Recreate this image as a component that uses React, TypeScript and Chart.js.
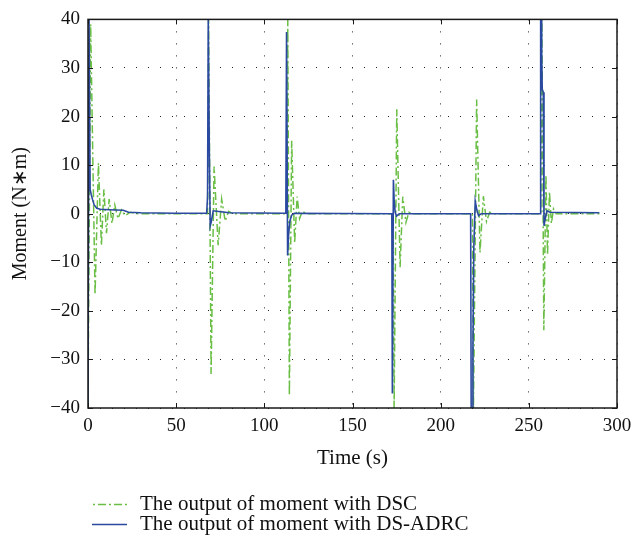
import React, { useEffect, useRef } from 'react';
import { Chart, registerables } from 'chart.js';

Chart.register(...registerables);

const seriesNames = ['The output of moment with DSC', 'The output of moment with DS-ADRC'];

const dscTime = [
  0, 1.5, 4, 5.9, 7.6, 9, 10.5, 12, 13.6, 15.2, 17, 19, 21, 24, 28, 67.8,
  68.4, 69.8, 71.5, 73.8, 75.8, 77.8, 79.8, 82, 112.8,
  113.3, 114.2, 115.5, 117.2, 118.6, 120, 121.5, 124, 173.0,
  173.6, 175.1, 177, 178.5, 180.3, 182, 184, 218.0,
  218.6, 220.4, 222.3, 224.2, 226, 227.8, 230, 256.8,
  257.4, 258.5, 259.7, 260.6, 261.7, 262.8, 264, 265.5, 290,
];
const dscMoment = [
  -39, 39, -16.7, 10.4, -6.5, 5, -4, 3, -2, 1.8, -1, 0.8, -0.4, 0.3, 0, 0,
  40, -33, 9.7, -6.5, 3, -1.5, 0.5, 0, 0,
  40, -37.4, 15, -6, 3.5, -1, 0.5, 0, 0,
  -40, 21.5, -11, 3.5, -1.8, 0.3, 0, 0,
  -40, 23.5, -8, 3.6, -1.6, 0.3, 0, 0,
  40, -24, 8, -8.5, 4.5, -2, 1, 0, 0,
];

const adrcTime = [
  0, 0.6, 1.2, 1.8, 2.5, 3.5, 5, 7, 12, 20, 23, 30, 50, 67.3,
  67.8, 68.2, 68.6, 68.8, 69.3, 70, 71, 73, 80, 112.2,
  112.6, 113.2, 113.8, 114.5, 115.5, 117, 172.3,
  172.6, 173.2, 173.6, 174.2, 175, 176.5, 217.0,
  217.3, 218.0, 218.3, 218.8, 219.6, 220.5, 221.5, 223, 256.4,
  256.7, 257.1, 257.3, 257.6, 258.2, 258.6, 259.3, 260.3, 262, 290,
];
const adrcMoment = [
  -40, 40, 5, 4, 3, 1.8, 1.1, 0.9, 0.8, 0.7, 0.3, 0.2, 0.1, 0.1,
  3.5, 40, 40, 13, -2.5, -1.5, 0.6, 0.5, 0.2, 0.1,
  37.4, -8.6, -4, -1.5, -0.3, 0.1, 0,
  -37, 7, 3, 0.3, -0.5, 0, 0,
  -40, -40, -28, -7, 2.6, 0.8, -0.4, 0, 0,
  40, 40, 33, 25.6, 25, -2.5, -1, 0.6, 0.3, 0.2,
];

const xTickValues = [0, 50, 100, 150, 200, 250, 300];
const yTickValues = [-40, -30, -20, -10, 0, 10, 20, 30, 40];
const xTitle = 'Time (s)';
const yTitle = 'Moment (N∗m)';

const FONT_FAMILY = "'Liberation Serif', 'Times New Roman', serif";
const TEXT_COLOR = '#111';

const toPoints = (xs: number[], ys: number[]) => xs.map((x, i) => ({ x, y: ys[i] }));

const framePlugin = {
  id: 'frameTicks',
  afterDatasetsDraw(chart: any) {
    const { ctx, chartArea: a, scales } = chart;
    const len = 5;
    ctx.save();
    ctx.strokeStyle = '#1a1a1a';
    ctx.lineWidth = 1;
    ctx.setLineDash([]);
    ctx.beginPath();
    scales.x.ticks.forEach((t: any) => {
      const px = Math.round(scales.x.getPixelForValue(t.value)) + 0.5;
      ctx.moveTo(px, a.bottom);
      ctx.lineTo(px, a.bottom - len);
      ctx.moveTo(px, a.top);
      ctx.lineTo(px, a.top + len);
    });
    scales.y.ticks.forEach((t: any) => {
      const py = Math.round(scales.y.getPixelForValue(t.value)) + 0.5;
      ctx.moveTo(a.left, py);
      ctx.lineTo(a.left + len, py);
      ctx.moveTo(a.right, py);
      ctx.lineTo(a.right - len, py);
    });
    ctx.stroke();
    ctx.lineWidth = 1.5;
    ctx.strokeRect(a.left, a.top, a.right - a.left, a.bottom - a.top);
    ctx.restore();
  },
};

const legendPlugin = {
  id: 'lineLegend',
  afterDraw(chart: any, _args: any, opts: any) {
    const { ctx } = chart;
    ctx.save();
    chart.data.datasets.forEach((ds: any, i: number) => {
      const y = opts.y + i * opts.rowGap;
      ctx.strokeStyle = ds.borderColor;
      ctx.lineWidth = ds.borderWidth;
      ctx.setLineDash(ds.borderDash || []);
      ctx.lineDashOffset = opts.dashOffset || 0;
      ctx.beginPath();
      ctx.moveTo(opts.x, y + 0.5);
      ctx.lineTo(opts.x + opts.lineLength, y + 0.5);
      ctx.stroke();
      ctx.setLineDash([]);
      ctx.fillStyle = opts.color;
      ctx.font = opts.font;
      ctx.textBaseline = 'middle';
      ctx.textAlign = 'left';
      ctx.fillText(ds.label, opts.x + opts.lineLength + opts.gap, y);
    });
    ctx.restore();
  },
};

export default function App() {
  const canvasRef = useRef<HTMLCanvasElement | null>(null);

  useEffect(() => {
    document.body.style.margin = '0';
    const canvas = canvasRef.current;
    if (!canvas) return;
    const tickFont = { family: FONT_FAMILY, size: 19 };
    const xTitleFont = { family: FONT_FAMILY, size: 21 };
    const yTitleFont = { family: FONT_FAMILY, size: 20 };
    const chart = new Chart(canvas, {
      type: 'line',
      data: {
        datasets: [
          {
            label: seriesNames[0],
            data: toPoints(dscTime, dscMoment),
            borderColor: '#6abe45',
            borderWidth: 1.5,
            borderDash: [8, 3, 2, 3],
            pointRadius: 0,
            fill: false,
            tension: 0,
            order: 1,
          },
          {
            label: seriesNames[1],
            data: toPoints(adrcTime, adrcMoment),
            borderColor: '#2b49a0',
            borderWidth: 1.6,
            pointRadius: 0,
            fill: false,
            tension: 0,
            order: 0,
          },
        ],
      },
      options: {
        animation: false,
        responsive: false,
        devicePixelRatio: 1,
        layout: { padding: { top: 14, right: 26, bottom: 0, left: 0 } },
        plugins: {
          legend: { display: false },
          tooltip: { enabled: false },
          lineLegend: {
            x: 92,
            y: 504,
            rowGap: 20,
            lineLength: 35,
            gap: 13,
            dashOffset: 10,
            font: `21px ${FONT_FAMILY}`,
            color: TEXT_COLOR,
          },
        } as any,
        scales: {
          x: {
            type: 'linear',
            min: 0,
            max: 300,
            afterBuildTicks: (s: any) => {
              s.ticks = xTickValues.map((v) => ({ value: v }));
            },
            afterFit: (s: any) => {
              s.height = 128;
            },
            grid: { color: '#222', lineWidth: 1, drawTicks: false },
            border: { display: false, dash: [1, 11] },
            ticks: {
              padding: 7,
              font: tickFont,
              color: TEXT_COLOR,
              maxRotation: 0,
              autoSkip: false,
              callback: (v: any) => String(v),
            },
            title: {
              display: true,
              text: xTitle,
              font: xTitleFont,
              color: TEXT_COLOR,
              padding: { top: 0, bottom: 65 },
            },
          },
          y: {
            type: 'linear',
            min: -40,
            max: 40,
            afterBuildTicks: (s: any) => {
              s.ticks = yTickValues.map((v) => ({ value: v }));
            },
            afterFit: (s: any) => {
              s.width = 88;
            },
            grid: { color: '#222', lineWidth: 1, drawTicks: false },
            border: { display: false, dash: [1, 11] },
            ticks: {
              padding: 8,
              font: tickFont,
              color: TEXT_COLOR,
              autoSkip: false,
              callback: (v: any) => String(v).replace('-', '−'),
            },
            title: {
              display: true,
              text: yTitle,
              font: yTitleFont,
              color: TEXT_COLOR,
              padding: { top: 9, bottom: 0 },
            },
          },
        },
      },
      plugins: [framePlugin, legendPlugin],
    } as any);
    return () => chart.destroy();
  }, []);

  return <canvas ref={canvasRef} width={643} height={536} />;
}
